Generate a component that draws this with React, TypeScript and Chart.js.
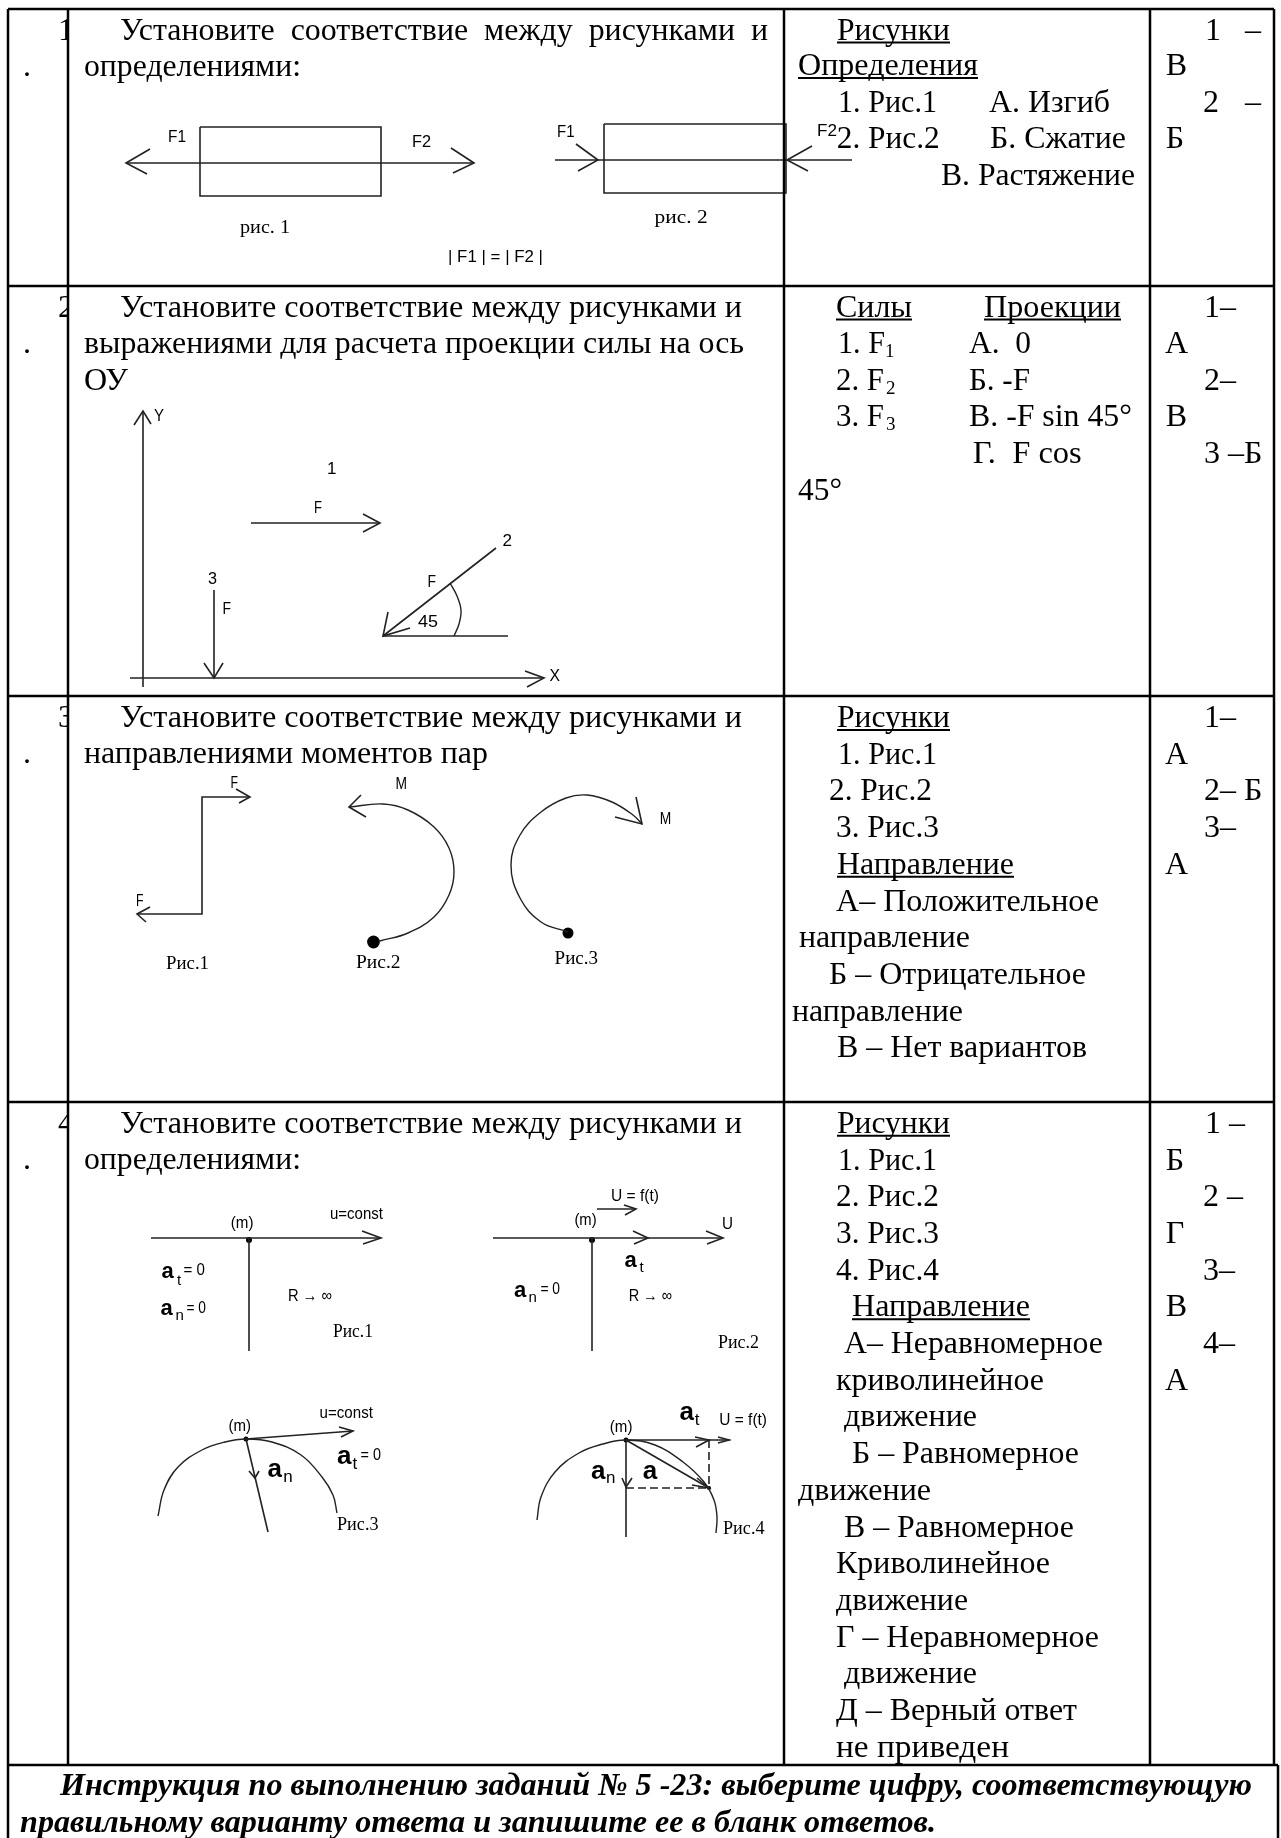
import React, { useEffect, useRef } from "react";
import { Chart, registerables } from "chart.js";

Chart.register(...registerables);

type Pt = [number, number];
type Txt = [string, number, number, number?];

const PAGE_W = 1281;
const PAGE_H = 1838;

// ---- table rules
const tableRules: Pt[][] = [
  [[8, 9], [1274, 9]],
  [[8, 286], [1274, 286]],
  [[8, 696], [1274, 696]],
  [[8, 1102], [1274, 1102]],
  [[8, 1765], [1278, 1765]],
  [[8, 9], [8, 1838]],
  [[68, 9], [68, 1765]],
  [[784, 9], [784, 1765]],
  [[1150, 9], [1150, 1765]],
  [[1274, 9], [1274, 1765]],
  [[1278, 1765], [1278, 1838]],
];

// ---- straight figure strokes
const figureStrokes: Pt[][] = [
  // task 1
  [[200, 127], [381, 127], [381, 196], [200, 196], [200, 127]],
  [[126, 163], [474, 163]],
  [[150, 149], [126, 163], [147, 174]],
  [[451, 148], [474, 163], [453, 173]],
  [[604, 124], [786, 124], [786, 193], [604, 193], [604, 124]],
  [[555, 160], [852, 160]],
  [[576, 144], [598, 160], [578, 171]],
  [[812, 146], [787, 160], [808, 171]],
  // task 2
  [[143, 411], [143, 687]],
  [[134, 425], [143, 411], [151, 424]],
  [[130, 678], [544, 678]],
  [[525, 671], [544, 678], [527, 687]],
  [[251, 523], [380, 523]],
  [[363, 514], [380, 523], [363, 532]],
  [[383, 636], [496, 548]],
  [[388, 612], [383, 636], [410, 628]],
  [[383, 636], [508, 636]],
  [[214, 590], [214, 678]],
  [[204, 663], [214, 678], [223, 663]],
  // task 3
  [[137, 914], [202, 914], [202, 797], [250, 797]],
  [[236, 789], [250, 797], [239, 803]],
  [[150, 907], [137, 914], [146, 922]],
  [[361, 795], [349, 807], [366, 817]],
  [[636, 797], [642, 824], [615, 817]],
  // task 4
  [[151, 1238], [381, 1238]],
  [[362, 1231], [381, 1238], [363, 1244]],
  [[249, 1238], [249, 1351]],
  [[493, 1238], [723, 1238]],
  [[706, 1231], [723, 1238], [707, 1244]],
  [[633, 1231], [648, 1238], [634, 1244]],
  [[592, 1238], [592, 1351]],
  [[597, 1209], [636, 1209]],
  [[624, 1205], [636, 1209], [625, 1215]],
  [[246, 1439], [353, 1431]],
  [[339, 1427], [353, 1431], [341, 1437]],
  [[246, 1439], [268, 1532]],
  [[249, 1471], [255, 1478], [259, 1471]],
  [[626, 1440], [730, 1440]],
  [[718, 1437], [729, 1440], [718, 1443]],
  [[695, 1437], [709, 1440], [696, 1447]],
  [[626, 1440], [626, 1537]],
  [[622, 1478], [626, 1487], [632, 1478]],
  [[626, 1440], [709, 1488]],
  [[692, 1485], [709, 1488], [697, 1478]],
];

const dashedStrokes: Pt[][] = [
  [[626, 1488], [709, 1488]],
  [[709, 1440], [709, 1488]],
];

const curvedStrokes: Pt[][] = [
  [[450, 583], [457, 596], [461, 610], [459, 624], [454, 636]],
  [[349, 807], [383, 804], [408, 810], [434, 827], [449, 848], [454, 872], [449, 895], [434, 917], [408, 933], [380, 941]],
  [[568, 932], [541, 922], [520, 898], [511, 865], [520, 835], [541, 812], [566, 798], [587, 795], [612, 802], [633, 815], [642, 824]],
  [[158, 1516], [164, 1490], [178, 1467], [202, 1450], [225, 1442], [246, 1439], [272, 1442], [301, 1455], [322, 1477], [333, 1495], [337, 1513]],
  [[537, 1520], [541, 1497], [555, 1472], [579, 1453], [603, 1444], [626, 1440], [655, 1445], [683, 1462], [704, 1482], [714, 1500], [717, 1517], [716, 1533]],
];

const dots: [number, number, number][] = [
  [373.5, 942, 6.4],
  [568, 933, 5.5],
  [249, 1240, 3],
  [592, 1240, 3],
  [246, 1439, 2.5],
  [626, 1440, 2.5],
  [709, 1488, 2],
];

// ---- text
const questionText: Txt[] = [
  ["Установите  соответствие  между  рисунками  и", 120, 40, 648],
  ["определениями:", 84, 76, 217],
  ["Установите соответствие между рисунками и", 120, 316.5, 622],
  ["выражениями для расчета проекции силы на ось", 84, 353, 660],
  ["ОУ", 84, 390],
  ["Установите соответствие между рисунками и", 120, 727, 622],
  ["направлениями моментов пар", 84, 763, 404],
  ["Установите соответствие между рисунками и", 120, 1133, 622],
  ["определениями:", 84, 1169, 217],
];

const rowDots: Txt[] = [
  [".", 23, 76],
  [".", 23, 353],
  [".", 23, 763],
  [".", 23, 1169],
];

const rowNumbers: Txt[] = [
  ["1", 58, 40],
  ["2", 58, 316.5],
  ["3", 58, 727],
  ["4", 58, 1133],
];

const optionHeads: Txt[] = [
  ["Рисунки", 837, 39.5, 113],
  ["Определения", 798, 75, 180],
  ["Силы", 836, 316.5, 76],
  ["Проекции", 984, 316.5, 137],
  ["Рисунки", 837, 727, 113],
  ["Направление", 837, 873.8, 177],
  ["Рисунки", 837, 1132.8, 113],
  ["Направление", 852, 1316.3, 178],
];

const optionText: Txt[] = [
  ["1. Рис.1", 838, 111.7, 99],
  ["А. Изгиб", 989, 111.7, 121],
  ["2. Рис.2", 836.7, 148, 103],
  ["Б. Сжатие", 990, 148, 136],
  ["В. Растяжение", 941, 185, 194],
  ["1. F", 838, 353, 47],
  ["А.  0", 969, 353, 62],
  ["2. F", 836, 389.7, 48],
  ["Б. -F", 969, 389.7, 61],
  ["3. F", 836, 426.4, 48],
  ["В. -F sin 45°", 969, 426.4, 163],
  ["Г.  F cos", 972.7, 463, 109],
  ["45°", 798, 499.8, 44],
  ["1. Рис.1", 838, 763.7, 99],
  ["2. Рис.2", 829, 800.4, 103],
  ["3. Рис.3", 836, 837.1, 103],
  ["А– Положительное", 836, 910.5, 263],
  ["направление", 799, 947.2, 171],
  ["Б – Отрицательное", 829, 983.9, 257],
  ["направление", 792, 1020.6, 171],
  ["В – Нет вариантов", 837, 1057.3, 250],
  ["1. Рис.1", 838, 1169.5, 99],
  ["2. Рис.2", 836, 1206.2, 103],
  ["3. Рис.3", 836, 1242.9, 103],
  ["4. Рис.4", 836, 1279.6, 103],
  ["А– Неравномерное", 844, 1353, 259],
  ["криволинейное", 836, 1389.7, 208],
  ["движение", 844, 1426.4, 133],
  ["Б – Равномерное", 852, 1463.1, 227],
  ["движение", 798, 1499.8, 133],
  ["В – Равномерное", 844, 1536.5, 230],
  ["Криволинейное", 836, 1573.2, 214],
  ["движение", 836, 1609.9, 132],
  ["Г – Неравномерное", 836, 1646.6, 263],
  ["движение", 844, 1683.3, 133],
  ["Д – Верный ответ", 836, 1720, 241],
  ["не приведен", 836, 1756.7, 173],
];

const subscripts: Txt[] = [
  ["1", 885, 357],
  ["2", 886, 393.7],
  ["3", 886, 430.4],
];

const answers: Txt[] = [
  ["1", 1205, 39.5], ["–", 1245, 39.5], ["В", 1165.7, 75], ["2", 1203, 111.7], ["–", 1245, 111.7], ["Б", 1165.7, 148],
  ["1–", 1204, 316.5], ["А", 1165, 353], ["2–", 1204, 389.7], ["В", 1165.7, 426.4], ["3 –Б", 1204, 463],
  ["1–", 1204, 727], ["А", 1165, 763.7], ["2– Б", 1204, 800.4], ["3–", 1204, 837.1], ["А", 1165, 873.8],
  ["1 –", 1205, 1132.8], ["Б", 1165.7, 1169.5], ["2 –", 1203, 1206.2], ["Г", 1165.7, 1242.9], ["3–", 1203, 1279.6], ["В", 1165.7, 1316.3], ["4–", 1203, 1353], ["А", 1165, 1389.7],
];

const instruction: Txt[] = [
  ["Инструкция по выполнению заданий № 5 -23: выберите цифру, соответствующую", 60, 1795, 1192],
  ["правильному варианту ответа и запишите ее в бланк ответов.", 20, 1832, 916],
];

const figureSerif: Txt[] = [
  ["рис. 1", 240, 233, 50],
  ["рис. 2", 654.6, 222.7, 53],
  ["Рис.1", 166, 969, 43],
  ["Рис.2", 356, 967.7, 44.5],
  ["Рис.3", 554.6, 964, 43.5],
  ["Рис.1", 333, 1337, 40],
  ["Рис.2", 718, 1348, 41],
  ["Рис.3", 337, 1530, 41.5],
  ["Рис.4", 723, 1534, 41.5],
];

const figureSans: Txt[] = [
  ["F1", 168, 141.7, 18], ["F2", 412, 147, 19], ["F1", 557, 136.7, 17.5], ["F2", 817, 136, 20],
  ["| F1 | = | F2 |", 448, 262, 95],
  ["Y", 154, 421, 10], ["X", 549.5, 680.7, 10.5], ["1", 327, 474], ["F", 314, 513, 8], ["2", 502.5, 545.7, 9.5],
  ["F", 427.6, 587.3, 8.5], ["45", 418, 626.7, 20], ["3", 208, 584, 9], ["F", 222.4, 614, 8.5],
  ["F", 230.6, 788.3, 7.5], ["F", 136, 905.7, 7.5], ["M", 395.4, 789, 11.5], ["M", 659.7, 824, 11.5],
  ["(m)", 230.8, 1228, 22.7], ["u=const", 330, 1219, 53], ["= 0", 183.6, 1275, 21.4], ["= 0", 186.5, 1313, 19.5], ["R → ∞", 288, 1301, 44],
  ["(m)", 574.4, 1225, 22.2], ["U = f(t)", 611, 1200.7, 48], ["U", 722, 1229, 11], ["= 0", 540.4, 1294, 19.6], ["R → ∞", 628.7, 1301, 43.3],
  ["(m)", 228.5, 1430.7, 22.5], ["u=const", 319.6, 1417.7, 53.3], ["= 0", 360.6, 1460, 20.4],
  ["(m)", 609.8, 1432.3, 22.6], ["U = f(t)", 719.3, 1425, 47.7],
];

const accelSmall: Txt[] = [
  ["a", 161.5, 1277.7], ["a", 160.5, 1315], ["a", 624.4, 1266.7], ["a", 514, 1296.7],
];
const accelLarge: Txt[] = [
  ["a", 337, 1464], ["a", 267.6, 1477.3], ["a", 679.6, 1420], ["a", 590.9, 1479], ["a", 642.8, 1479],
];
const accelSubsSmall: Txt[] = [
  ["t", 177, 1285], ["n", 175.6, 1320], ["t", 639.5, 1271.7], ["n", 528.6, 1301.7],
];
const accelSubsLarge: Txt[] = [
  ["t", 352.6, 1469.3], ["n", 283.2, 1482.3], ["t", 694.7, 1425], ["n", 606, 1483.3],
];

const SERIF = '"Liberation Serif", "Times New Roman", serif';
const SANS = '"Liberation Sans", Arial, sans-serif';

const textGroups: { items: Txt[]; font: string; underline?: boolean; clipRight?: number }[] = [
  { items: questionText, font: `32px ${SERIF}` },
  { items: rowDots, font: `32px ${SERIF}` },
  { items: rowNumbers, font: `32px ${SERIF}`, clipRight: 68 },
  { items: optionHeads, font: `32px ${SERIF}`, underline: true },
  { items: optionText, font: `32px ${SERIF}` },
  { items: subscripts, font: `19px ${SERIF}` },
  { items: answers, font: `32px ${SERIF}` },
  { items: instruction, font: `italic bold 32px ${SERIF}` },
  { items: figureSerif, font: `19px ${SERIF}` },
  { items: figureSans, font: `17px ${SANS}` },
  { items: accelSmall, font: `bold 22px ${SANS}` },
  { items: accelLarge, font: `bold 26px ${SANS}` },
  { items: accelSubsSmall, font: `15px ${SANS}` },
  { items: accelSubsLarge, font: `17px ${SANS}` },
];

const toPoints = (pts: Pt[]) => pts.map(([x, y]) => ({ x, y }));

const lineSet = (pts: Pt[], width: number, color: string, extra: object = {}) => ({
  data: toPoints(pts),
  showLine: true,
  borderColor: color,
  backgroundColor: color,
  borderWidth: width,
  pointRadius: 0,
  tension: 0,
  clip: false,
  ...extra,
});

const pageText = {
  id: "pageText",
  afterDatasetsDraw(chart: any) {
    const { ctx, scales } = chart;
    ctx.save();
    ctx.fillStyle = "#000";
    ctx.strokeStyle = "#000";
    ctx.textBaseline = "alphabetic";
    ctx.textAlign = "left";
    for (const group of textGroups) {
      ctx.font = group.font;
      for (const [str, x, y, width] of group.items) {
        const px = scales.x.getPixelForValue(x);
        const py = scales.y.getPixelForValue(y);
        const natural = ctx.measureText(str).width;
        const sx = width ? width / natural : 1;
        ctx.save();
        if (group.clipRight !== undefined) {
          ctx.beginPath();
          ctx.rect(0, 0, scales.x.getPixelForValue(group.clipRight), PAGE_H);
          ctx.clip();
        }
        ctx.translate(px, py);
        ctx.scale(sx, 1);
        ctx.fillText(str, 0, 0);
        ctx.restore();
        if (group.underline) {
          ctx.lineWidth = 2;
          ctx.beginPath();
          ctx.moveTo(px, py + 3);
          ctx.lineTo(px + natural * sx, py + 3);
          ctx.stroke();
        }
      }
    }
    ctx.restore();
  },
};

export default function App() {
  const ref = useRef<HTMLCanvasElement>(null);
  useEffect(() => {
    const datasets: any[] = [
      ...tableRules.map((p) => lineSet(p, 2.5, "#000")),
      ...figureStrokes.map((p) => lineSet(p, 1.6, "#222")),
      ...dashedStrokes.map((p) => lineSet(p, 1.6, "#222", { borderDash: [8, 4] })),
      ...curvedStrokes.map((p) => lineSet(p, 1.4, "#222", { tension: 0.4 })),
      ...dots.map(([x, y, r]) => lineSet([[x, y]], 0, "#000", { showLine: false, pointRadius: r, borderWidth: 0 })),
    ];
    const chart = new Chart(ref.current!, {
      type: "scatter",
      data: { datasets },
      options: {
        animation: false,
        responsive: false,
        devicePixelRatio: 1,
        layout: { padding: 0, autoPadding: false },
        events: [],
        plugins: { legend: { display: false }, tooltip: { enabled: false }, title: { display: false } },
        scales: {
          x: { type: "linear", min: 0, max: PAGE_W, display: false },
          y: { type: "linear", min: 0, max: PAGE_H, reverse: true, display: false },
        },
      },
      plugins: [pageText],
    } as any);
    return () => chart.destroy();
  }, []);
  return (
    <canvas
      ref={ref}
      width={PAGE_W}
      height={PAGE_H}
      style={{ position: "absolute", left: 0, top: 0, width: PAGE_W, height: PAGE_H, display: "block", background: "#fff" }}
    />
  );
}
